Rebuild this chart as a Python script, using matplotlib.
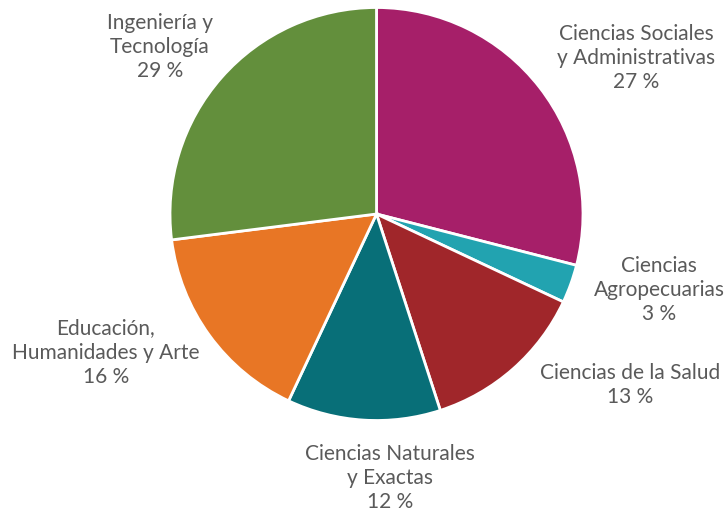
import matplotlib.pyplot as plt

# slice sizes as drawn (clockwise from 12 o'clock)
sizes = [29, 3, 13, 12, 16, 27]
names = ["Ciencias Sociales\ny Administrativas", "Ciencias\nAgropecuarias",
         "Ciencias de la Salud", "Ciencias Naturales\ny Exactas",
         "Educación,\nHumanidades y Arte", "Ingeniería y\nTecnología"]
pct_text = ["27 %", "3 %", "13 %", "12 %", "16 %", "29 %"]
colors = ["#A61F69", "#22A3B0", "#A0262A", "#086F78", "#E87625", "#638F3C"]

# label anchor points (pixels from top-left)
label_xy = [(636, 58), (659, 290), (630, 385), (390, 478), (106, 353), (160, 47)]

W, H = 727, 523
fig = plt.figure(figsize=(W / 100, H / 100), dpi=100)
ax = fig.add_axes([0, 0, 1, 1])
ax.set_xlim(0, W)
ax.set_ylim(0, H)
ax.set_aspect("equal")
ax.axis("off")

ax.pie(sizes, colors=colors, startangle=90, counterclock=False,
       center=(376.5, H - 214), radius=206.5,
       wedgeprops=dict(edgecolor="white", linewidth=2))

fam = ["Lato", "DejaVu Sans"]

for (x, y), n, p in zip(label_xy, names, pct_text):
    ax.text(x, H - y, n + "\n" + p, ha="center", va="center",
            fontsize=15, color="#5a5a5a", family=fam, fontweight="normal",
            linespacing=1.28)

ax.set_xlim(0, W)
ax.set_ylim(0, H)
fig.savefig("out.png", dpi=100)
